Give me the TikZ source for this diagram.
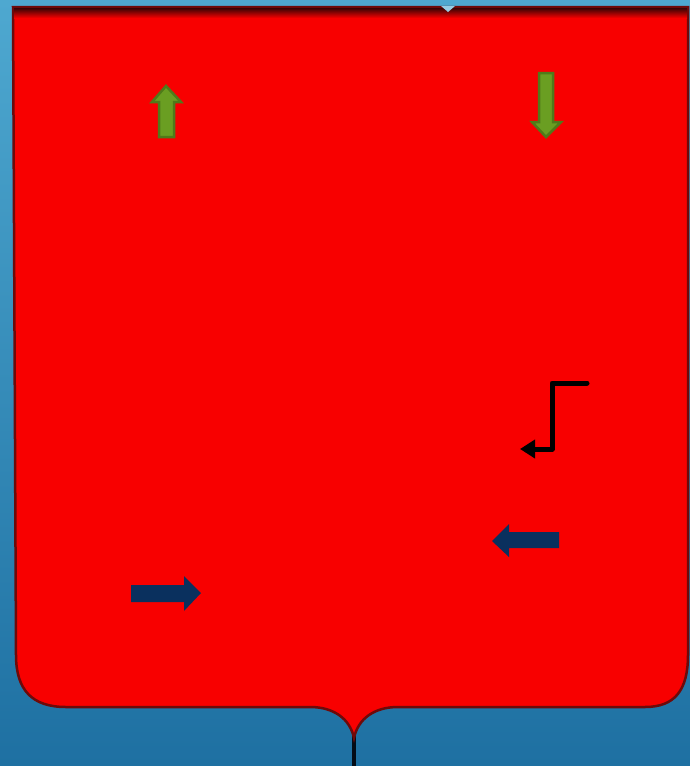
\documentclass[tikz,border=0pt]{standalone}
\usepackage{xcolor}
\definecolor{skytop}{RGB}{ 78, 168, 208}
\definecolor{skybottom}{RGB}{ 30, 112, 162}
\definecolor{shieldred}{RGB}{248,   0,   0}
\definecolor{shieldrim}{RGB}{110,  10,  10}
\definecolor{leafgreen}{RGB}{106, 158,  34}
\definecolor{leafrim}{RGB}{ 80, 122,  26}
\definecolor{inkblue}{RGB}{ 10,  48,  94}
\usepackage{tikz}
\usetikzlibrary{arrows.meta, calc}

\tikzset{
  shieldbody/.style={fill=shieldred, draw=shieldrim, line width=2.5pt},
  greenarrow/.style={fill=leafgreen, draw=leafrim, line width=2.5pt, line join=miter},
  bluearrow/.style={fill=inkblue, draw=none},
  elbowline/.style={draw=black, line width=5pt, line cap=round, line join=round,
    -{Triangle[length=15pt, width=18pt]}}
}

\begin{document}
\begin{tikzpicture}[x=1pt, y=-1pt]
    \useasboundingbox (0,0) rectangle (690,766);
    % background
    \shade[top color=skytop, bottom color=skybottom] (0,0) rectangle (690,766);
    % stem below the shield
    \draw[line width=4pt, black!75!inkblue] (354,730) -- (354,766);
    % shield
    \draw[shieldbody] (13,7) -- (688,7) -- (688,655)
      .. controls (688,690) and (675,707) .. (645,707) -- (398,707)
      .. controls (374,707) and (358,719) .. (354,738)
      .. controls (350,719) and (334,707) .. (310,707) -- (66,707)
      .. controls (32,707) and (16,690) .. (16,655) -- cycle;
    \shade[top color=shieldrim!50!black, bottom color=shieldred]
      (14,8) rectangle (687,18);
    % notch at the top
    \fill[skytop!60!white] (441,6) -- (455,6) -- (448,12) -- cycle;
    % green arrows
    \draw[greenarrow] (166,86) -- (181,102) -- (174,102) -- (174,137)
      -- (159,137) -- (159,102) -- (152,102) -- cycle;
    \draw[greenarrow] (546,137) -- (561,122) -- (553,122) -- (553,73)
      -- (539,73) -- (539,122) -- (532,122) -- cycle;
    % elbow arrow
    \coordinate (elbowstart) at (587,383);
    \coordinate (elbowend) at (520,449);
    \draw[elbowline] (elbowstart) -- (552,383) -- (552,449) -- (elbowend);
    % blue arrows
    \fill[bluearrow] (492,541) -- (509,524) -- (509,532) -- (559,532)
      -- (559,548) -- (509,548) -- (509,557) -- cycle;
    \fill[bluearrow] (201,593) -- (184,576) -- (184,585) -- (131,585)
      -- (131,602) -- (184,602) -- (184,611) -- cycle;
  \end{tikzpicture}
\end{document}
